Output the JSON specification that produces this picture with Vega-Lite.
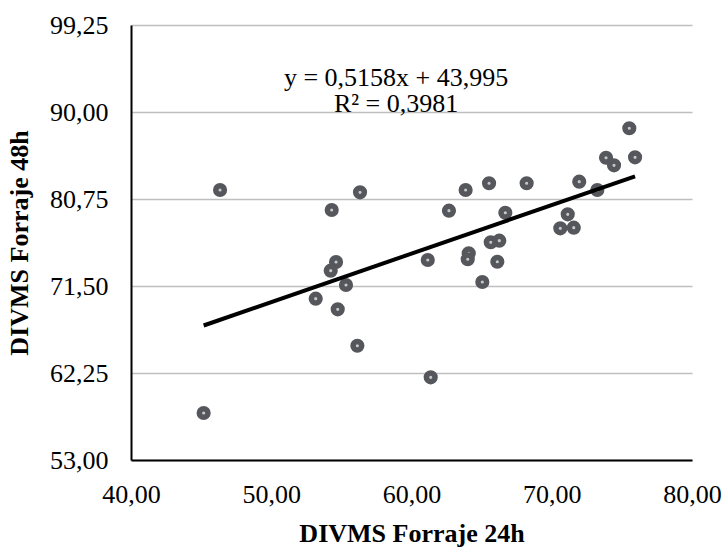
{
  "$schema": "https://vega.github.io/schema/vega-lite/v6.json",
  "width": 561,
  "height": 435,
  "autosize": {"type": "none"},
  "padding": {"left": 131, "top": 25, "right": 34, "bottom": 87},
  "background": "white",
  "config": {
    "view": {"stroke": null},
    "font": "Liberation Serif"
  },
  "datasets": {
    "muestras": [
      {"divms24": 45.18, "divms48": 58.00},
      {"divms24": 46.35, "divms48": 81.71},
      {"divms24": 54.31, "divms48": 79.58},
      {"divms24": 56.33, "divms48": 81.46},
      {"divms24": 54.62, "divms48": 74.05},
      {"divms24": 54.24, "divms48": 73.13},
      {"divms24": 55.33, "divms48": 71.61},
      {"divms24": 53.17, "divms48": 70.15},
      {"divms24": 54.74, "divms48": 69.02},
      {"divms24": 56.14, "divms48": 65.15},
      {"divms24": 61.16, "divms48": 74.26},
      {"divms24": 61.37, "divms48": 61.79},
      {"divms24": 62.67, "divms48": 79.51},
      {"divms24": 63.86, "divms48": 81.71},
      {"divms24": 64.08, "divms48": 74.98},
      {"divms24": 64.01, "divms48": 74.34},
      {"divms24": 65.05, "divms48": 71.93},
      {"divms24": 65.53, "divms48": 82.42},
      {"divms24": 65.65, "divms48": 76.15},
      {"divms24": 66.26, "divms48": 76.32},
      {"divms24": 66.12, "divms48": 74.08},
      {"divms24": 66.69, "divms48": 79.29},
      {"divms24": 68.21, "divms48": 82.42},
      {"divms24": 70.61, "divms48": 77.63},
      {"divms24": 71.14, "divms48": 79.12},
      {"divms24": 71.57, "divms48": 77.70},
      {"divms24": 71.96, "divms48": 82.59},
      {"divms24": 73.25, "divms48": 81.71},
      {"divms24": 73.87, "divms48": 85.14},
      {"divms24": 74.44, "divms48": 84.33},
      {"divms24": 75.53, "divms48": 88.27},
      {"divms24": 75.94, "divms48": 85.18}
    ],
    "tendencia": [
      {"divms24": 45.18, "divms48": 67.30},
      {"divms24": 75.94, "divms48": 83.165}
    ],
    "ecuacion": [
      {"divms24": 58.9, "divms48": 92.76, "texto": "y = 0,5158x + 43,995"},
      {"divms24": 58.9, "divms48": 90.0, "texto": "R² = 0,3981"}
    ]
  },
  "layer": [
    {
      "data": {"name": "muestras"},
      "mark": {
        "type": "point",
        "shape": "circle",
        "filled": false,
        "fill": "#c8c8c8",
        "fillOpacity": 1,
        "stroke": "#55575c",
        "strokeWidth": 5.5,
        "strokeOpacity": 1,
        "opacity": 1,
        "size": 75
      },
      "encoding": {
        "x": {
          "field": "divms24",
          "type": "quantitative",
          "scale": {"domain": [40, 80], "nice": false, "zero": false},
          "axis": {
            "values": [40, 50, 60, 70, 80],
            "labelExpr": "replace(format(datum.value, '.2f'), '.', ',')",
            "grid": false,
            "ticks": false,
            "tickSize": 0,
            "domainColor": "#000000",
            "domainWidth": 2,
            "labelFontSize": 26,
            "labelColor": "#000000",
            "labelPadding": 21,
            "labelFlush": false,
            "title": "DIVMS Forraje 24h",
            "titleFontSize": 26,
            "titleFontWeight": "bold",
            "titleColor": "#000000",
            "titlePadding": 13
          }
        },
        "y": {
          "field": "divms48",
          "type": "quantitative",
          "scale": {"domain": [53, 99.25], "nice": false, "zero": false},
          "axis": {
            "values": [53, 62.25, 71.5, 80.75, 90, 99.25],
            "labelExpr": "replace(format(datum.value, '.2f'), '.', ',')",
            "grid": true,
            "gridColor": "#bfbfbf",
            "gridWidth": 1.5,
            "ticks": false,
            "tickSize": 0,
            "domainColor": "#000000",
            "domainWidth": 2,
            "labelFontSize": 26,
            "labelColor": "#000000",
            "labelPadding": 23,
            "labelFlush": false,
            "title": "DIVMS Forraje 48h",
            "titleFontSize": 26,
            "titleFontWeight": "bold",
            "titleColor": "#000000",
            "titlePadding": 17
          }
        }
      }
    },
    {
      "data": {"name": "tendencia"},
      "mark": {"type": "line", "color": "#000000", "strokeWidth": 4},
      "encoding": {
        "x": {"field": "divms24", "type": "quantitative"},
        "y": {"field": "divms48", "type": "quantitative"}
      }
    },
    {
      "data": {"name": "ecuacion"},
      "mark": {
        "type": "text",
        "align": "center",
        "baseline": "alphabetic",
        "fontSize": 26,
        "color": "#000000"
      },
      "encoding": {
        "x": {"field": "divms24", "type": "quantitative"},
        "y": {"field": "divms48", "type": "quantitative"},
        "text": {"field": "texto"}
      }
    }
  ]
}
